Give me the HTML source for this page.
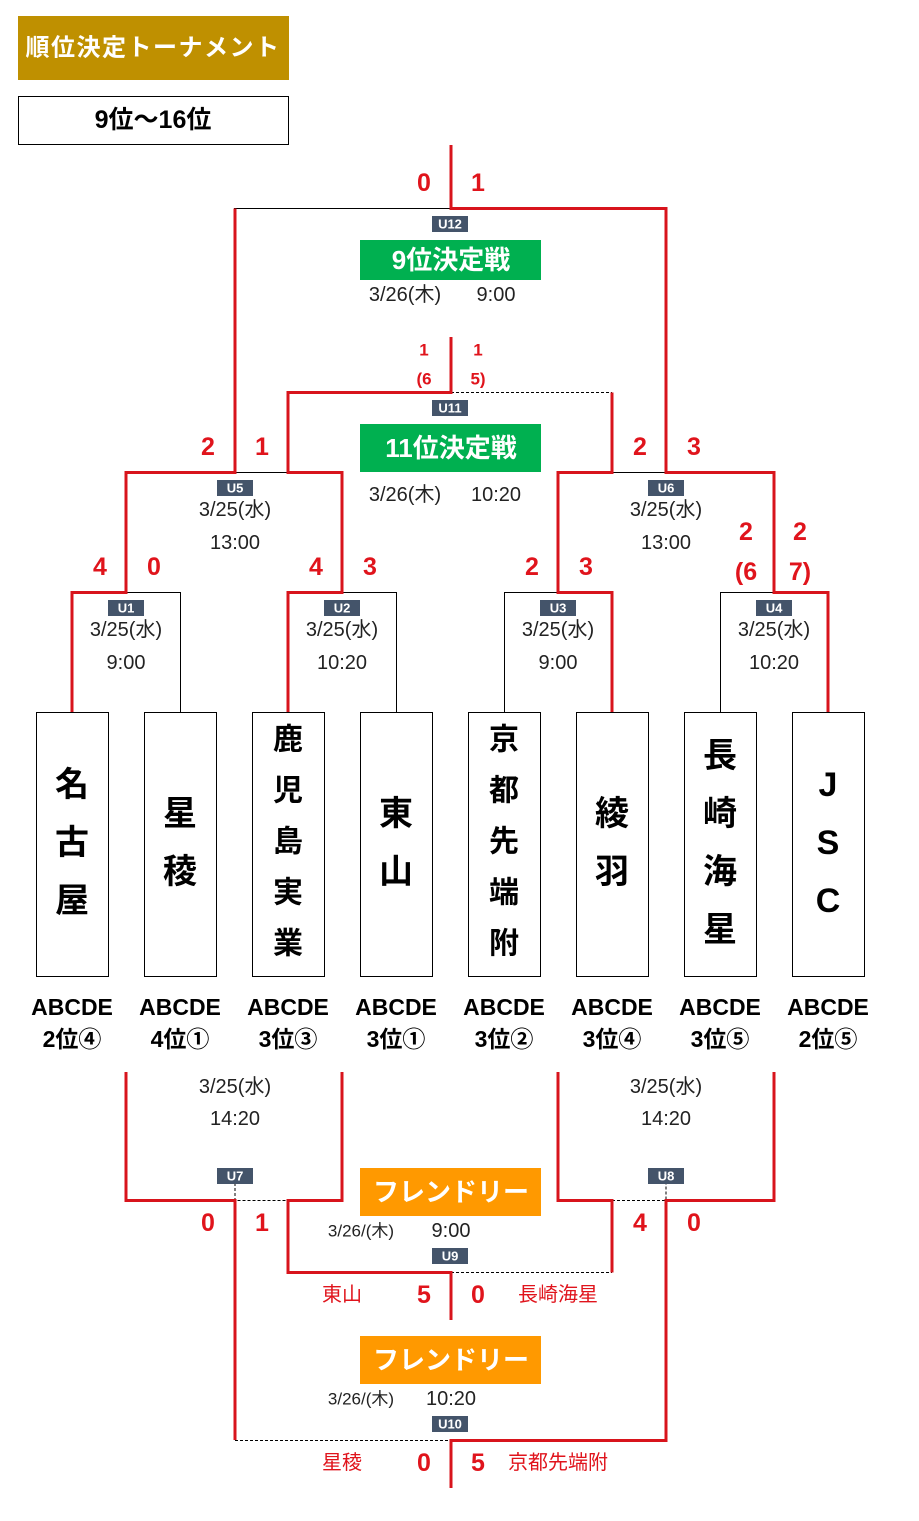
<!DOCTYPE html>
<html><head><meta charset="utf-8"><style>
html,body{margin:0;padding:0;background:#fff}
svg{display:block}
text{font-family:"Liberation Sans","Noto Sans CJK JP",sans-serif;text-anchor:middle;dominant-baseline:central}
.r{stroke:#d8141c;stroke-width:3;fill:none}
.k{stroke:#000;stroke-width:1;fill:none}
.d{stroke:#000;stroke-width:1;fill:none;stroke-dasharray:3 2}
.s{fill:#e0141c;font-weight:bold;font-size:25px}
.ss{fill:#e0141c;font-weight:bold;font-size:17px}
.dt{fill:#222;font-size:20px}
.u{fill:#fff;font-weight:bold;font-size:13px}
.tn{fill:#000;font-weight:bold;font-size:34px}
.tn2{fill:#000;font-weight:bold;font-size:30px}
.lb{fill:#000;font-weight:bold;font-size:23px}
.bn{fill:#fff;font-weight:bold;font-size:26px}
.rn{fill:#e0141c;font-size:20px}
</style></head><body>
<svg width="919" height="1521" viewBox="0 0 919 1521" xmlns="http://www.w3.org/2000/svg">
<rect x="18" y="16" width="271" height="64" fill="#bf9000"/>
<text x="153" y="48" style="fill:#fff;font-weight:bold;font-size:24px;letter-spacing:1.5px">順位決定トーナメント</text>
<rect x="18.5" y="96.5" width="270" height="48" fill="#fff" stroke="#000"/>
<text x="153" y="120" style="fill:#000;font-weight:bold;font-size:25px">9位～16位</text>

<g fill="#fff" stroke="#000" stroke-width="1">
<rect x="36.5" y="712.5" width="72" height="264"/><rect x="144.5" y="712.5" width="72" height="264"/>
<rect x="252.5" y="712.5" width="72" height="264"/><rect x="360.5" y="712.5" width="72" height="264"/>
<rect x="468.5" y="712.5" width="72" height="264"/><rect x="576.5" y="712.5" width="72" height="264"/>
<rect x="684.5" y="712.5" width="72" height="264"/><rect x="792.5" y="712.5" width="72" height="264"/>
</g>
<text class="tn" x="72" y="785">名</text><text class="tn" x="72" y="843">古</text><text class="tn" x="72" y="901">屋</text>
<text class="tn" x="180" y="814">星</text><text class="tn" x="180" y="872">稜</text>
<text class="tn2" x="288" y="740">鹿</text><text class="tn2" x="288" y="791">児</text><text class="tn2" x="288" y="842">島</text><text class="tn2" x="288" y="893">実</text><text class="tn2" x="288" y="944">業</text>
<text class="tn" x="396" y="814">東</text><text class="tn" x="396" y="872">山</text>
<text class="tn2" x="504" y="740">京</text><text class="tn2" x="504" y="791">都</text><text class="tn2" x="504" y="842">先</text><text class="tn2" x="504" y="893">端</text><text class="tn2" x="504" y="944">附</text>
<text class="tn" x="612" y="814">綾</text><text class="tn" x="612" y="872">羽</text>
<text class="tn" x="720" y="756">長</text><text class="tn" x="720" y="814">崎</text><text class="tn" x="720" y="872">海</text><text class="tn" x="720" y="930">星</text>
<text class="tn" x="828" y="785">J</text><text class="tn" x="828" y="843">S</text><text class="tn" x="828" y="901">C</text>

<text class="lb" x="72" y="1007">ABCDE</text><text class="lb" x="72" y="1039">2位④</text>
<text class="lb" x="180" y="1007">ABCDE</text><text class="lb" x="180" y="1039">4位①</text>
<text class="lb" x="288" y="1007">ABCDE</text><text class="lb" x="288" y="1039">3位③</text>
<text class="lb" x="396" y="1007">ABCDE</text><text class="lb" x="396" y="1039">3位①</text>
<text class="lb" x="504" y="1007">ABCDE</text><text class="lb" x="504" y="1039">3位②</text>
<text class="lb" x="612" y="1007">ABCDE</text><text class="lb" x="612" y="1039">3位④</text>
<text class="lb" x="720" y="1007">ABCDE</text><text class="lb" x="720" y="1039">3位⑤</text>
<text class="lb" x="828" y="1007">ABCDE</text><text class="lb" x="828" y="1039">2位⑤</text>

<path class="k" d="M126 592.5H180.5V712 M342 592.5H396.5V712 M504.5 712V592.5H558 M720.5 712V592.5H774 M235 472.5H288 M612 472.5H666 M234 208.5H451"/>
<path class="d" d="M451 392.5H612 M235 1183V1200.5H288 M612 1200.5H666V1183 M451 1272.5H612 M235 1440.5H451"/>

<path class="r" d="M72 712V592.5H126V472.5H235V208.5 M288 712V592.5H342V472.5H288V392.5H451V337 M612 712V592.5H558V472.5H612V392.5 M828 712V592.5H774V472.5H666V208.5H451V145"/>
<path class="r" d="M126 1072V1200.5H235V1440 M342 1072V1200.5H288V1272.5H451V1320 M558 1072V1200.5H612V1272.5 M774 1072V1200.5H666V1440.5H451V1488"/>

<g fill="#44546a">
<rect x="432" y="216" width="36" height="16"/><rect x="432" y="400" width="36" height="16"/>
<rect x="217" y="480" width="36" height="16"/><rect x="648" y="480" width="36" height="16"/>
<rect x="108" y="600" width="36" height="16"/><rect x="324" y="600" width="36" height="16"/>
<rect x="540" y="600" width="36" height="16"/><rect x="756" y="600" width="36" height="16"/>
<rect x="217" y="1168" width="36" height="16"/><rect x="648" y="1168" width="36" height="16"/>
<rect x="432" y="1248" width="36" height="16"/><rect x="432" y="1416" width="36" height="16"/>
</g>
<text class="u" x="450" y="224">U12</text><text class="u" x="450" y="408">U11</text>
<text class="u" x="235" y="488">U5</text><text class="u" x="666" y="488">U6</text>
<text class="u" x="126" y="608">U1</text><text class="u" x="342" y="608">U2</text>
<text class="u" x="558" y="608">U3</text><text class="u" x="774" y="608">U4</text>
<text class="u" x="235" y="1176">U7</text><text class="u" x="666" y="1176">U8</text>
<text class="u" x="450" y="1256">U9</text><text class="u" x="450" y="1424">U10</text>

<rect x="360" y="240" width="181" height="40" fill="#00b050"/><text class="bn" x="451" y="260">9位決定戦</text>
<rect x="360" y="424" width="181" height="48" fill="#00b050"/><text class="bn" x="451" y="448">11位決定戦</text>
<rect x="360" y="1168" width="181" height="48" fill="#ff9900"/><text class="bn" x="451" y="1192">フレンドリー</text>
<rect x="360" y="1336" width="181" height="48" fill="#ff9900"/><text class="bn" x="451" y="1360">フレンドリー</text>

<text class="dt" x="405" y="295">3/26(木)</text><text class="dt" x="496" y="295">9:00</text>
<text class="dt" x="405" y="495">3/26(木)</text><text class="dt" x="496" y="495">10:20</text>
<text class="dt" x="235" y="510">3/25(水)</text><text class="dt" x="235" y="543">13:00</text>
<text class="dt" x="666" y="510">3/25(水)</text><text class="dt" x="666" y="543">13:00</text>
<text class="dt" x="126" y="630">3/25(水)</text><text class="dt" x="126" y="663">9:00</text>
<text class="dt" x="342" y="630">3/25(水)</text><text class="dt" x="342" y="663">10:20</text>
<text class="dt" x="558" y="630">3/25(水)</text><text class="dt" x="558" y="663">9:00</text>
<text class="dt" x="774" y="630">3/25(水)</text><text class="dt" x="774" y="663">10:20</text>
<text class="dt" x="235" y="1087">3/25(水)</text><text class="dt" x="235" y="1119">14:20</text>
<text class="dt" x="666" y="1087">3/25(水)</text><text class="dt" x="666" y="1119">14:20</text>
<text class="dt" x="361" y="1231" style="font-size:17px">3/26/(木)</text><text class="dt" x="451" y="1231">9:00</text>
<text class="dt" x="361" y="1399" style="font-size:17px">3/26/(木)</text><text class="dt" x="451" y="1399">10:20</text>

<text class="s" x="424" y="183">0</text><text class="s" x="478" y="183">1</text>
<text class="ss" x="424" y="350">1</text><text class="ss" x="478" y="350">1</text>
<text class="ss" x="424" y="379">(6</text><text class="ss" x="478" y="379">5)</text>
<text class="s" x="208" y="447">2</text><text class="s" x="262" y="447">1</text>
<text class="s" x="640" y="447">2</text><text class="s" x="694" y="447">3</text>
<text class="s" x="100" y="567">4</text><text class="s" x="154" y="567">0</text>
<text class="s" x="316" y="567">4</text><text class="s" x="370" y="567">3</text>
<text class="s" x="532" y="567">2</text><text class="s" x="586" y="567">3</text>
<text class="s" x="746" y="532">2</text><text class="s" x="800" y="532">2</text>
<text class="s" x="746" y="572">(6</text><text class="s" x="800" y="572">7)</text>
<text class="s" x="208" y="1223">0</text><text class="s" x="262" y="1223">1</text>
<text class="s" x="640" y="1223">4</text><text class="s" x="694" y="1223">0</text>
<text class="rn" x="342" y="1295">東山</text><text class="s" x="424" y="1295">5</text><text class="s" x="478" y="1295">0</text><text class="rn" x="558" y="1295">長崎海星</text>
<text class="rn" x="342" y="1463">星稜</text><text class="s" x="424" y="1463">0</text><text class="s" x="478" y="1463">5</text><text class="rn" x="558" y="1463">京都先端附</text>
</svg>
</body></html>
